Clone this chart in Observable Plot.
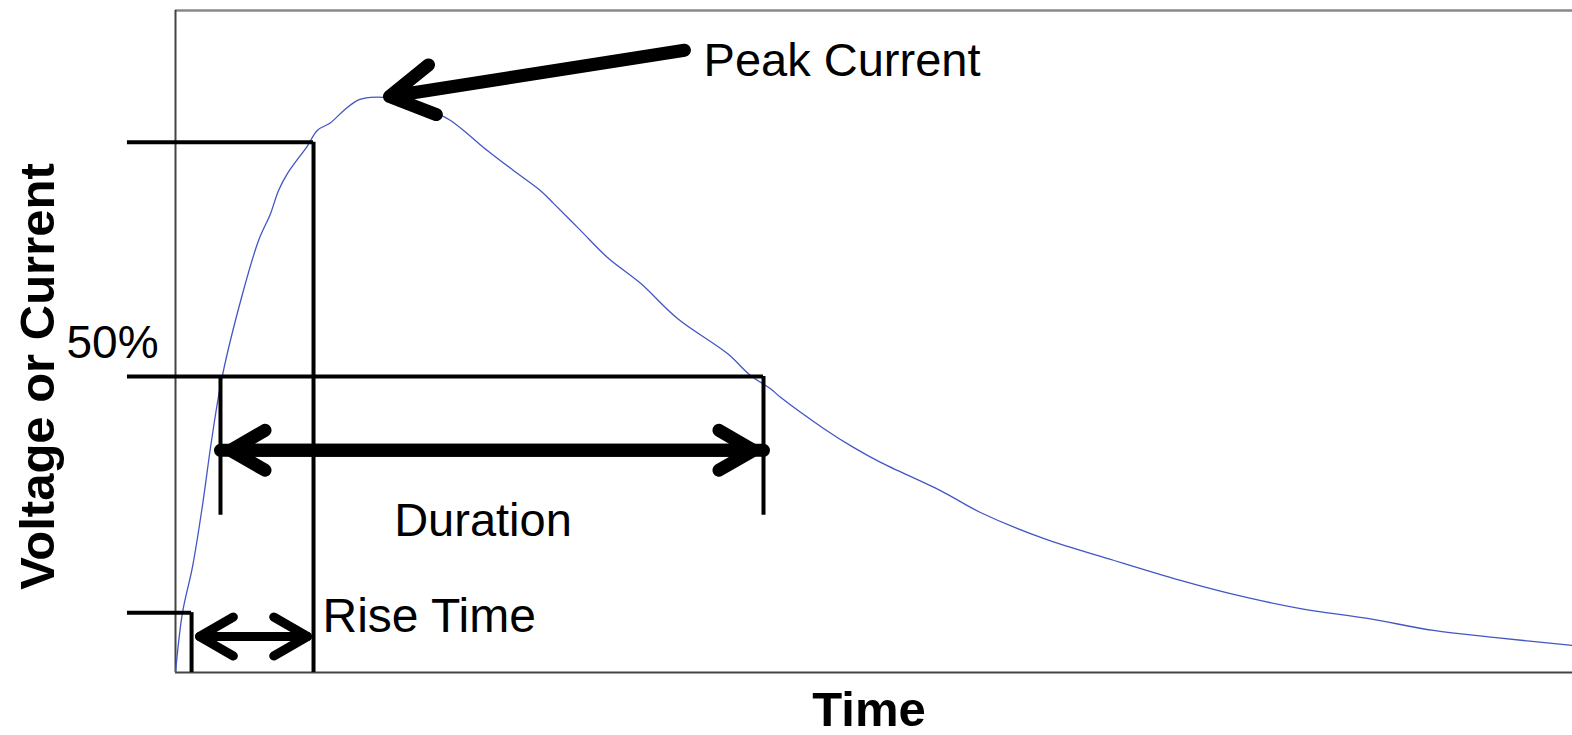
<!DOCTYPE html>
<html><head><meta charset="utf-8">
<script src="https://cdn.jsdelivr.net/npm/d3@7"></script>
<script src="https://cdn.jsdelivr.net/npm/@observablehq/plot@0.6"></script>
<style>
html,body{margin:0;padding:0;background:#fff;}
#chart svg{display:block;}
</style></head><body><div id="chart"></div>
<script>
// Waveform (arbitrary time units 0..100, amplitude in % of peak)
const timeValues = [0, 0.50, 1.22, 1.93, 2.58, 3.36, 4.80, 5.94, 6.80, 7.37, 8.02, 9.45, 10.16, 11.10, 12.03, 13.03, 13.96, 14.89, 16.46, 18.75, 19.69, 20.90, 22.05, 24.19, 26.13, 27.06, 28.99, 30.92, 33.29, 35.93, 39.51, 41.16, 42.59, 43.31, 46.39, 48.53, 50.47, 54.76, 57.62, 62.13, 67.14, 71.94, 75.52, 80.53, 85.33, 90.05, 94.35, 100];
const signalValues = [0, 10.4, 18.4, 29.0, 40.3, 51.6, 65.8, 75.0, 79.7, 83.7, 86.7, 91.5, 94.2, 95.5, 97.6, 99.4, 99.9, 99.9, 99.2, 97.1, 95.9, 93.6, 91.2, 87.2, 83.7, 81.5, 76.8, 72.1, 67.6, 61.5, 55.4, 51.6, 49.3, 47.8, 42.4, 39.1, 36.5, 31.6, 27.8, 23.3, 19.5, 16.0, 13.7, 11.1, 9.4, 7.3, 6.1, 4.7];

// Annotation levels and time marks
const levelNames = ["start", "50%", "rise end"];
const levelValues = [10.4, 51.4, 92.1];
const riseTimeBounds = [1.15, 9.88];
const durationBounds = [3.22, 42.09];
const peakPoint = [14.89, 99.9];

// Texts
const peakLabel = "Peak Current";
const halfLabel = "50%";
const durationLabel = "Duration";
const riseLabel = "Rise Time";
const xLabel = "Time";
const yLabel = "Voltage or Current";

const curve = timeValues.map((t, i) => ({t, v: signalValues[i]}));

const leftExt = -3.44;     // guide lines extend into the left margin
const durTickBottom = 27.3;

const hLines = [
  {x1: leftExt, x2: riseTimeBounds[0], y: levelValues[0]},
  {x1: leftExt, x2: durationBounds[1], y: levelValues[1]},
  {x1: leftExt, x2: riseTimeBounds[1], y: levelValues[2]}
];
const vLines = [
  {x: riseTimeBounds[0], y1: 0, y2: levelValues[0]},
  {x: riseTimeBounds[1], y1: 0, y2: levelValues[2]},
  {x: durationBounds[0], y1: durTickBottom, y2: levelValues[1]},
  {x: durationBounds[1], y1: durTickBottom, y2: levelValues[1]}
];
const durY = 38.6, riseY = 6.25;
const durArrows = [
  {x1: durationBounds[0], x2: durationBounds[1], y: durY},
  {x1: durationBounds[1], x2: durationBounds[0], y: durY}
];
const riseArrows = [
  {x1: riseTimeBounds[0], x2: riseTimeBounds[1], y: riseY},
  {x1: riseTimeBounds[1], x2: riseTimeBounds[0], y: riseY}
];

const font = "'Liberation Sans', Arial, Helvetica, sans-serif";

const chart = Plot.plot({
  width: 1572, height: 735,
  marginTop: 10, marginBottom: 63, marginLeft: 175, marginRight: 0,
  x: {domain: [0, 100], axis: null},
  y: {domain: [0, 115], axis: null},
  style: {fontFamily: font, background: "white", color: "black"},
  marks: [
    Plot.ruleY([0], {stroke: "#444", strokeWidth: 2}),
    Plot.ruleY([115], {stroke: "#888", strokeWidth: 2.5}),
    Plot.ruleX([0], {stroke: "#444", strokeWidth: 2}),
    Plot.line(curve, {x: "t", y: "v", stroke: "#4356c4", strokeWidth: 1.3, curve: "catmull-rom"}),
    Plot.ruleY(hLines, {x1: "x1", x2: "x2", y: "y", stroke: "black", strokeWidth: 4}),
    Plot.ruleX(vLines, {x: "x", y1: "y1", y2: "y2", stroke: "black", strokeWidth: 4}),
    Plot.arrow(durArrows, {x1: "x1", x2: "x2", y1: "y", y2: "y", stroke: "black", strokeWidth: 13, headLength: 4.6, insetEnd: 10}),
    Plot.arrow([riseArrows[0]], {x1: "x1", x2: "x2", y1: "y", y2: "y", stroke: "black", strokeWidth: 9, headLength: 6.5, insetEnd: 6, insetStart: 8}),
    Plot.arrow([riseArrows[1]], {x1: "x1", x2: "x2", y1: "y", y2: "y", stroke: "black", strokeWidth: 9, headLength: 6.5, insetEnd: 8, insetStart: 6}),
    Plot.arrow([peakPoint], {x1: 36.43, y1: 108.1, x2: d => d[0], y2: d => d[1], stroke: "black", strokeWidth: 13, headLength: 5.8, insetEnd: 6}),
    Plot.text([peakLabel], {x: 37.8, y: 103.7, text: d => d, textAnchor: "start", lineAnchor: "bottom", fontSize: 47, fill: "black"}),
    Plot.text([halfLabel], {x: -7.8, y: 54.55, text: d => d, textAnchor: "start", lineAnchor: "bottom", fontSize: 46, fill: "black"}),
    Plot.text([durationLabel], {x: 22.01, y: 23.63, text: d => d, textAnchor: "middle", lineAnchor: "bottom", fontSize: 47, fill: "black"}),
    Plot.text([riseLabel], {x: 10.52, y: 6.95, text: d => d, textAnchor: "start", lineAnchor: "bottom", fontSize: 48, fill: "black"}),
    Plot.text([xLabel], {frameAnchor: "bottom", text: d => d, textAnchor: "middle", lineAnchor: "bottom", dx: -5, dy: 53, fontSize: 49, fontWeight: "bold", fill: "black"}),
    Plot.text([yLabel], {frameAnchor: "left", text: d => d, textAnchor: "middle", lineAnchor: "bottom", rotate: -90, dx: -122, dy: 35, fontSize: 49, fontWeight: "bold", fill: "black"})
  ]
});
document.getElementById("chart").append(chart);
</script>
</body></html>
